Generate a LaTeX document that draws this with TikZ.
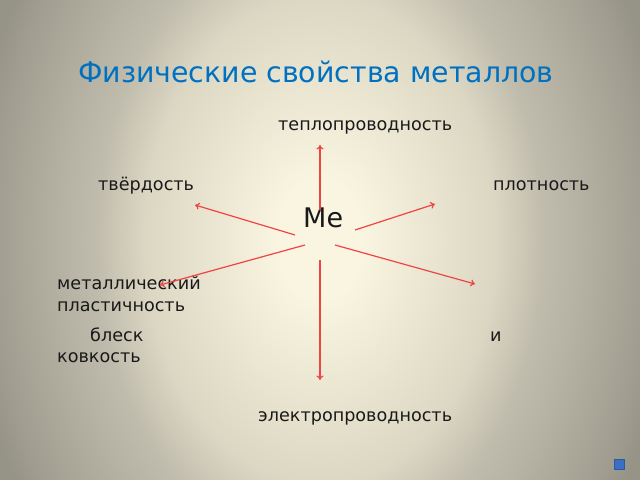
\documentclass[tikz,border=0pt]{standalone}
\usepackage{fontspec}
\setmainfont{DejaVu Sans}
\usetikzlibrary{arrows.meta,positioning}

\definecolor{bgin}{RGB}{250,245,225}
\definecolor{bgmid}{RGB}{220,215,195}
\definecolor{bgside}{RGB}{192,188,173}
\definecolor{bgedge}{RGB}{160,157,144}
\definecolor{bgout}{RGB}{150,147,135}
\definecolor{titleblue}{RGB}{0,112,192}
\definecolor{arrowred}{RGB}{240,68,68}
\definecolor{btnblue}{RGB}{60,110,195}

\pgfdeclareradialshading{metalbg}{\pgfpoint{0bp}{0bp}}{%
  color(0bp)=(bgin); color(3bp)=(bgin); color(12.5bp)=(bgmid);
  color(16bp)=(bgside); color(23.5bp)=(bgedge); color(25bp)=(bgout);
  color(50bp)=(bgout)}

\begin{document}
\begin{tikzpicture}[
    x=1bp, y=-1bp,
    font=\fontsize{17.6bp}{21bp}\selectfont,
    prop/.style={anchor=base west, inner sep=0pt, text=black!90},
    title/.style={anchor=base west, inner sep=0pt, text=titleblue, font=\fontsize{28.4bp}{32bp}\selectfont},
    metal/.style={anchor=base west, inner sep=0pt, text=black!90, font=\fontsize{27bp}{30bp}\selectfont},
    ray/.style={-{To[length=4.5bp,width=7bp]}, arrowred, line width=1.2bp}
]
    \useasboundingbox (0,0) rectangle (640,480);
    \begin{scope}
        \clip (0,0) rectangle (640,480);
        \fill[bgout] (0,0) rectangle (640,480);
        \shade[shading=metalbg] (320,240) ellipse [x radius=350bp, y radius=490bp];
    \end{scope}

    \node[title] (head) at (78,83) {Физические свойства металлов};

    \node[metal] (me) at (303,228) {Ме};

    \node[prop] (heat) at (278,131) {теплопроводность};
    \node[prop] (hard) at (98,191) {твёрдость};
    \node[prop] (dens) at (493,191) {плотность};
    \node[prop] (lus1) at (57,289) {металлический};
    \node[prop] (pla1) at (57,311) {пластичность};
    \node[prop] (lus2) at (90,341) {блеск};
    \node[prop] (pla2) at (490,341) {и};
    \node[prop] (pla3) at (57,362) {ковкость};
    \node[prop] (elec) at (258,421) {электропроводность};

    % ray ends
    \coordinate (up-a) at (320,210);   \coordinate (up-b) at (320,145);
    \coordinate (dn-a) at (320,260);   \coordinate (dn-b) at (320,380);
    \coordinate (ul-a) at (295,235);   \coordinate (ul-b) at (195,205);
    \coordinate (ur-a) at (355,230);   \coordinate (ur-b) at (435,204);
    \coordinate (ll-a) at (305,245);   \coordinate (ll-b) at (160,285);
    \coordinate (lr-a) at (335,245);   \coordinate (lr-b) at (475,284);

    \draw[ray] (up-a) -- (up-b);
    \draw[ray] (dn-a) -- (dn-b);
    \draw[ray] (ul-a) -- (ul-b);
    \draw[ray] (ur-a) -- (ur-b);
    \draw[ray] (ll-a) -- (ll-b);
    \draw[ray] (lr-a) -- (lr-b);

    \node[draw=btnblue!80!black, fill=btnblue, minimum size=10bp, inner sep=0pt] (btn) at (619,464) {};
\end{tikzpicture}
\end{document}
